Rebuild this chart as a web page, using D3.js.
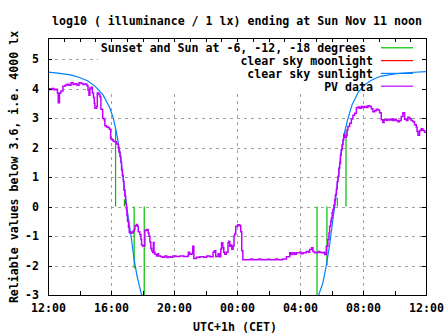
<!DOCTYPE html>
<html><head><meta charset="utf-8">
<script src="https://cdn.jsdelivr.net/npm/d3@7"></script>
<style>
html,body{margin:0;padding:0;background:#fff;}
svg{display:block;}
text{font-family:"DejaVu Sans Mono",monospace;font-weight:bold;font-size:11.6px;fill:#000;}
</style></head><body>
<svg id="c" width="447" height="335"></svg>
<script>
const titleText = "log10 ( illuminance / 1 lx) ending at Sun Nov 11 noon";
const yLabelText = "Reliable values below 3.6, i.e. 4000 lx";
const xLabelText = "UTC+1h (CET)";
const legendLabels = ["Sunset and Sun at -6, -12, -18 degrees ", "clear sky moonlight", "clear sky sunlight", "PV data"];
const legendColors = ["#00c000", "#ff0000", "#0080ff", "#c000ff"];
const xLabelHours = [12, 16, 20, 24, 28, 32, 36];
const xTickLabels = ["12:00", "16:00", "20:00", "00:00", "04:00", "08:00", "12:00"];
const yTicks = [-3, -2, -1, 0, 1, 2, 3, 4, 5];

// hours since 12:00 Sat (12..36)
const sunEventTime = [16.29, 16.85, 17.47, 18.11, 29.08, 29.71, 30.37, 30.92];
const sunEventValue = [2.6, 0.25, -2.1, -3.5, -3.5, -2.0, 0.3, 2.6];

const moonlight = []; // below the plotted range, not visible

const sunEvening = [[12.0,4.56],[12.75,4.52],[13.5,4.46],[14.0,4.38],[14.5,4.27],[15.0,4.08],[15.5,3.78],[15.9,3.38],[16.15,3.0],[16.35,2.5],[16.55,1.9],[16.75,1.1],[16.95,0.2],[17.1,-0.4],[17.3,-1.1],[17.47,-1.8],[17.65,-2.35],[17.85,-2.8],[17.97,-3.05]];
const sunMorning = [[29.15,-3.05],[29.45,-2.6],[29.67,-2.0],[29.88,-1.3],[30.05,-0.6],[30.2,0.0],[30.4,0.9],[30.6,1.8],[30.8,2.45],[31.0,2.9],[31.3,3.45],[31.7,3.88],[32.1,4.13],[32.5,4.28],[33.1,4.42],[34.0,4.5],[35.0,4.55],[36.0,4.58]];

const pvData = [[12.00,4.00],[12.13,3.97],[12.25,4.01],[12.38,3.96],[12.51,3.98],[12.60,3.85],[12.65,3.52],[12.73,3.85],[12.82,3.92],[12.95,4.08],[13.08,4.12],[13.21,4.15],[13.33,4.12],[13.46,4.20],[13.59,4.14],[13.71,4.17],[13.84,4.12],[13.97,4.20],[14.09,4.18],[14.22,4.14],[14.35,4.16],[14.47,4.10],[14.54,3.95],[14.60,3.78],[14.66,4.02],[14.76,4.05],[14.82,3.85],[14.89,3.70],[14.94,3.51],[14.98,3.34],[15.09,3.40],[15.13,3.85],[15.23,3.80],[15.30,3.72],[15.36,3.30],[15.47,3.00],[15.55,2.95],[15.61,2.74],[15.72,2.70],[15.82,2.68],[15.90,2.62],[15.98,2.30],[16.06,2.27],[16.14,2.22],[16.25,2.20],[16.36,2.12],[16.46,2.00],[16.50,1.85],[16.57,1.70],[16.63,1.50],[16.67,1.25],[16.72,1.05],[16.78,0.85],[16.82,0.55],[16.88,0.35],[16.93,0.10],[16.98,-0.10],[17.01,-0.30],[17.05,-0.50],[17.11,-0.70],[17.16,-0.87],[17.20,-0.90],[17.26,-0.86],[17.33,-0.90],[17.41,-0.84],[17.47,-0.78],[17.52,-0.65],[17.61,-0.61],[17.68,-0.67],[17.73,-0.85],[17.83,-0.95],[17.90,-1.12],[17.94,-1.30],[18.02,-1.35],[18.15,-0.80],[18.26,-0.78],[18.36,-0.90],[18.41,-1.00],[18.47,-1.20],[18.53,-1.42],[18.58,-1.50],[18.66,-1.57],[18.69,-1.22],[18.73,-1.55],[18.79,-1.62],[18.89,-1.68],[18.98,-1.60],[19.02,-1.68],[19.17,-1.70],[19.29,-1.72],[19.42,-1.68],[19.55,-1.73],[19.67,-1.70],[19.80,-1.72],[19.93,-1.68],[20.12,-1.69],[20.37,-1.68],[20.62,-1.69],[20.88,-1.68],[20.91,-1.55],[21.00,-1.62],[21.13,-1.60],[21.19,-1.35],[21.26,-1.76],[21.43,-1.72],[21.64,-1.70],[21.89,-1.72],[22.08,-1.68],[22.27,-1.70],[22.48,-1.55],[22.56,-1.50],[22.65,-1.69],[22.80,-1.60],[22.88,-1.70],[22.97,-1.45],[23.02,-1.23],[23.10,-1.40],[23.16,-1.55],[23.22,-1.62],[23.32,-1.55],[23.43,-1.23],[23.48,-1.18],[23.54,-1.35],[23.60,-1.30],[23.67,-1.45],[23.75,-1.35],[23.81,-1.00],[23.86,-0.92],[23.92,-0.67],[24.05,-0.62],[24.18,-0.65],[24.24,-0.85],[24.30,-1.50],[24.37,-1.80],[24.56,-1.80],[24.87,-1.78],[25.00,-1.80],[25.38,-1.78],[25.51,-1.80],[25.95,-1.79],[26.08,-1.80],[26.46,-1.78],[26.58,-1.80],[26.90,-1.78],[27.14,-1.70],[27.35,-1.57],[27.44,-1.63],[27.55,-1.57],[27.66,-1.62],[27.77,-1.57],[27.98,-1.55],[28.07,-1.60],[28.19,-1.57],[28.40,-1.52],[28.55,-1.55],[28.61,-1.46],[28.74,-1.40],[28.82,-1.52],[28.93,-1.57],[29.14,-1.52],[29.25,-1.55],[29.36,-1.57],[29.50,-1.55],[29.57,-1.63],[29.67,-1.35],[29.77,-1.12],[29.84,-0.90],[29.88,-0.67],[29.95,-0.50],[29.99,-0.40],[30.04,-0.20],[30.09,-0.10],[30.15,0.05],[30.20,0.23],[30.25,0.40],[30.31,0.60],[30.36,0.85],[30.41,1.02],[30.47,1.30],[30.52,1.47],[30.57,1.75],[30.62,1.93],[30.68,2.10],[30.73,2.27],[30.78,2.45],[30.83,2.35],[30.94,2.40],[30.99,2.60],[31.04,2.72],[31.15,2.83],[31.26,2.97],[31.36,3.10],[31.47,3.17],[31.58,3.35],[31.68,3.38],[31.78,3.34],[31.89,3.40],[31.99,3.36],[32.10,3.40],[32.21,3.36],[32.31,3.42],[32.42,3.40],[32.53,3.32],[32.63,3.22],[32.74,3.25],[32.84,3.30],[32.95,3.28],[33.05,3.18],[33.16,2.95],[33.26,2.85],[33.34,2.95],[33.48,2.93],[33.58,2.96],[33.69,2.94],[33.80,2.97],[33.90,2.92],[34.00,2.96],[34.11,2.92],[34.21,2.88],[34.32,2.92],[34.43,3.06],[34.53,3.18],[34.64,2.96],[34.75,2.92],[34.85,3.03],[34.96,2.98],[35.06,2.92],[35.17,2.88],[35.27,2.78],[35.38,2.70],[35.43,2.55],[35.49,2.42],[35.59,2.58],[35.70,2.64],[35.80,2.58],[35.91,2.52],[36.00,2.55]];

const gridX = [16, 20, 24, 28, 32];
const gridY = [-2, -1, 0, 1, 2, 3, 4, 5];

const svg = d3.select("#c");
const L = 48, R = 426, T = 38, B = 295;
const x = d3.scaleLinear().domain([12, 36]).range([L, R]);
const y = d3.scaleLinear().domain([-3, 5.72]).range([B, T]);
const xr = x.copy().interpolate(d3.interpolateRound);
const yr = y.copy().interpolate(d3.interpolateRound);

svg.append("rect").attr("width", 447).attr("height", 335).attr("fill", "#fff");

// grid
const grid = svg.append("g").attr("stroke", "#a0a0a0").attr("stroke-width", 1).attr("stroke-dasharray", "3,4");
grid.selectAll("line.gy").data(gridY).join("line").attr("class", "gy")
  .attr("x1", L).attr("x2", R).attr("y1", d => yr(d) + 0.5).attr("y2", d => yr(d) + 0.5);
grid.selectAll("line.gx").data(gridX).join("line").attr("class", "gx")
  .attr("y1", T).attr("y2", B).attr("x1", d => xr(d) + 0.5).attr("x2", d => xr(d) + 0.5);

// key background
svg.append("rect").attr("x", 98).attr("y", 39).attr("width", R - 98).attr("height", 53).attr("fill", "#fff");

svg.append("clipPath").attr("id", "clip").append("rect")
  .attr("x", L).attr("y", T).attr("width", R - L).attr("height", B - T);
const plot = svg.append("g").attr("clip-path", "url(#clip)");

// sun events (impulses from 0)
plot.append("g").selectAll("line").data(sunEventTime).join("line")
  .attr("x1", d => x(d)).attr("x2", d => x(d))
  .attr("y1", y(0)).attr("y2", (d, i) => y(sunEventValue[i]))
  .attr("stroke", legendColors[0]).attr("stroke-width", 1.2);

const line = d3.line().x(d => x(d[0])).y(d => y(d[1]));
if (moonlight.length) plot.append("path").datum(moonlight).attr("d", line).attr("fill", "none").attr("stroke", legendColors[1]);
[sunEvening, sunMorning].forEach(s => {
  plot.append("path").datum(s).attr("d", line).attr("fill", "none")
    .attr("stroke", legendColors[2]).attr("stroke-width", 1.2);
});
const stepLine = d3.line().x(d => x(d[0])).y(d => y(d[1])).curve(d3.curveStepAfter);
plot.append("path").datum(pvData).attr("d", stepLine).attr("fill", "none")
  .attr("stroke", legendColors[3]).attr("stroke-width", 1.5).attr("stroke-linejoin", "miter");

// axes
function styleAxis(g) {
  g.select(".domain").remove();
  g.selectAll(".tick line").attr("stroke", "#000");
  g.attr("font-family", null).attr("font-size", null);
}
svg.append("g").attr("transform", `translate(0,${B})`)
  .call(d3.axisBottom(xr).tickValues(d3.range(12, 37, 2)).tickSize(-4).tickPadding(9)
    .tickFormat(h => { const i = xLabelHours.indexOf(h); return i >= 0 ? xTickLabels[i] : ""; }))
  .call(styleAxis);
svg.append("g").attr("transform", `translate(0,${T})`)
  .call(d3.axisTop(xr).tickValues(d3.range(12, 37, 1)).tickSize(-4).tickFormat(""))
  .call(styleAxis);
svg.append("g").attr("transform", `translate(${L},0)`)
  .call(d3.axisLeft(yr).tickValues(yTicks).tickSize(-4).tickPadding(9).tickFormat(d => String(d)))
  .call(styleAxis);
svg.append("g").attr("transform", `translate(${R},0)`)
  .call(d3.axisRight(yr).tickValues(yTicks).tickSize(-4).tickFormat(""))
  .call(styleAxis);

// border
svg.append("rect").attr("x", L + 0.5).attr("y", T + 0.5).attr("width", R - L).attr("height", B - T)
  .attr("fill", "none").attr("stroke", "#000").attr("stroke-width", 1);

// key
const key = svg.append("g");
legendLabels.forEach((lab, i) => {
  const by = 52.3 + i * 12.8;
  key.append("text").attr("x", 373).attr("y", by).attr("text-anchor", "end")
    .style("white-space", "pre").text(lab);
  key.append("line").attr("x1", 381).attr("x2", 413).attr("y1", by - 4.5).attr("y2", by - 4.5)
    .attr("stroke", legendColors[i]).attr("stroke-width", 1.2);
});

// titles
svg.append("text").attr("x", 237).attr("y", 25).attr("text-anchor", "middle").text(titleText);
svg.append("text").attr("x", 235).attr("y", 331).attr("text-anchor", "middle").text(xLabelText);
svg.append("text").attr("transform", "translate(18,167) rotate(-90)").attr("text-anchor", "middle").text(yLabelText);
</script>
</body></html>
